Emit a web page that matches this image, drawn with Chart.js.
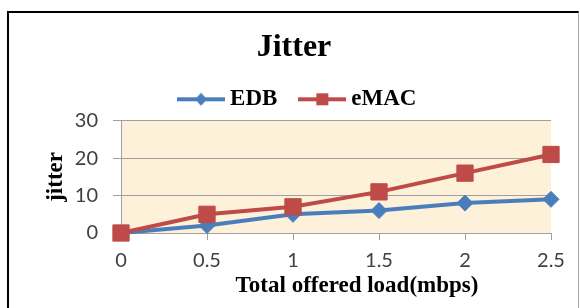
<!DOCTYPE html>
<html>
<head>
<meta charset="utf-8">
<script src="https://cdn.jsdelivr.net/npm/chart.js@4.4.0/dist/chart.umd.min.js"></script>
<style>
  html, body { margin: 0; padding: 0; background: #ffffff; overflow: hidden; }
  #wrap { position: relative; width: 580px; height: 308px; }
  #frame { position: absolute; left: 7px; top: 11px; width: 569px; height: 400px;
           border-left: 2px solid #000; border-top: 2px solid #000; border-right: 1px solid #a6a6a6;
           pointer-events: none; }
  canvas { position: absolute; left: 0; top: 0; }
</style>
</head>
<body>
<div id="wrap">
  <canvas id="c" width="580" height="308"></canvas>
  <div id="frame"></div>
</div>
<script>
const chartTitle = 'Jitter';
const xTitle = 'Total offered load(mbps)';
const yTitle = 'jitter';
const categories = ['0', '0.5', '1', '1.5', '2', '2.5'];
const seriesNames = ['EDB', 'eMAC'];
const edbValues = [0, 2, 5, 6, 8, 9];
const emacValues = [0, 5, 7, 11, 16, 21];
const yTicks = [0, 10, 20, 30];

const BLUE = '#4a7ebb';
const RED = '#be4b48';
const SERIF = '"Liberation Serif", "Times New Roman", serif';
const SANS = 'Lato, "Liberation Sans", sans-serif';

function legendImage(color, kind) {
  const cv = document.createElement('canvas');
  cv.width = 48; cv.height = 16;
  const g = cv.getContext('2d');
  g.strokeStyle = color; g.lineWidth = 4;
  g.beginPath(); g.moveTo(0, 8); g.lineTo(48, 8); g.stroke();
  g.fillStyle = color;
  g.beginPath();
  if (kind === 'diamond') {
    g.moveTo(24, 1.5); g.lineTo(30, 8); g.lineTo(24, 14.5); g.lineTo(18, 8);
  } else {
    g.rect(18, 2, 12, 12);
  }
  g.closePath(); g.fill();
  return cv;
}
const legendImgs = [legendImage(BLUE, 'diamond'), legendImage(RED, 'square')];

const plotBg = {
  id: 'plotBg',
  beforeDraw(chart) {
    const {ctx, chartArea: a} = chart;
    ctx.save();
    ctx.fillStyle = '#fdf1d9';
    ctx.fillRect(a.left, a.top, a.right - a.left, a.bottom - a.top);
    ctx.restore();
  }
};

const layoutTweak = {
  id: 'layoutTweak',
  afterLayout(chart) {
    chart.legend.left += 6;
    chart.legend.right += 6;
  }
};

const xAxisTitle = {
  id: 'xAxisTitle',
  afterDraw(chart) {
    const {ctx, chartArea: a} = chart;
    ctx.save();
    ctx.font = 'bold 23px ' + SERIF;
    ctx.fillStyle = '#000';
    ctx.textAlign = 'center';
    ctx.textBaseline = 'middle';
    ctx.fillText(xTitle, (a.left + a.right) / 2 + 21, 286);
    ctx.restore();
  }
};

new Chart(document.getElementById('c'), {
  type: 'line',
  data: {
    labels: categories,
    datasets: [
      {
        label: seriesNames[0], data: edbValues,
        borderColor: BLUE, backgroundColor: BLUE,
        pointBackgroundColor: BLUE, pointBorderColor: BLUE,
        borderWidth: 4, pointStyle: 'rectRot', pointRadius: 8, pointBorderWidth: 1,
        tension: 0, clip: false, order: 1
      },
      {
        label: seriesNames[1], data: emacValues,
        borderColor: RED, backgroundColor: RED,
        pointBackgroundColor: RED, pointBorderColor: RED,
        borderWidth: 4, pointStyle: 'rect', pointRadius: 11.5, pointBorderWidth: 1,
        tension: 0, clip: false, order: 0
      }
    ]
  },
  options: {
    responsive: false,
    animation: false,
    devicePixelRatio: 1,
    layout: { padding: { top: 12, left: 8, right: 0, bottom: 0 } },
    plugins: {
      tooltip: { enabled: false },
      title: {
        display: true, text: chartTitle, color: '#000',
        font: { family: SERIF, size: 32, weight: 'bold', lineHeight: 0.8 },
        padding: { top: 22.7, bottom: 0 }
      },
      legend: {
        display: true, position: 'top', align: 'center',
        labels: {
          color: '#000',
          font: { family: SERIF, size: 23, weight: 'bold' },
          usePointStyle: true, pointStyleWidth: 35, boxHeight: 16,
          padding: 27.5,
          sort: (a, b) => a.datasetIndex - b.datasetIndex,
          generateLabels(chart) {
            const items = Chart.defaults.plugins.legend.labels.generateLabels(chart);
            items.forEach(it => { it.pointStyle = legendImgs[it.datasetIndex]; });
            return items;
          }
        }
      }
    },
    scales: {
      x: {
        type: 'category', offset: false,
        grid: { display: true, drawOnChartArea: false, drawTicks: true, tickLength: 7, color: '#a0a0a0' },
        border: { display: true, color: '#a0a0a0', width: 1 },
        ticks: { color: '#404040', font: { family: SANS, size: 20 }, padding: 9, maxRotation: 0, autoSkip: false },
        afterFit(scale) { scale.height = 75; }
      },
      y: {
        min: 0, max: 30,
        afterBuildTicks(scale) { scale.ticks = yTicks.map(v => ({ value: v })); },
        grid: { display: true, drawTicks: true, tickLength: 8, color: '#a0a0a0' },
        border: { display: true, color: '#a0a0a0', width: 1 },
        ticks: { color: '#404040', font: { family: SANS, size: 20 }, padding: 15 },
        title: {
          display: true, text: yTitle, color: '#000',
          font: { family: SERIF, size: 23, weight: 'bold' },
          padding: { top: 34, bottom: 0 }
        },
        afterFit(scale) { scale.width = 113; }
      },
      y2: {
        position: 'right', display: true,
        grid: { display: false }, border: { display: false },
        ticks: { display: false },
        afterFit(scale) { scale.width = 29; }
      }
    }
  },
  plugins: [plotBg, layoutTweak, xAxisTitle]
});
</script>
</body>
</html>
